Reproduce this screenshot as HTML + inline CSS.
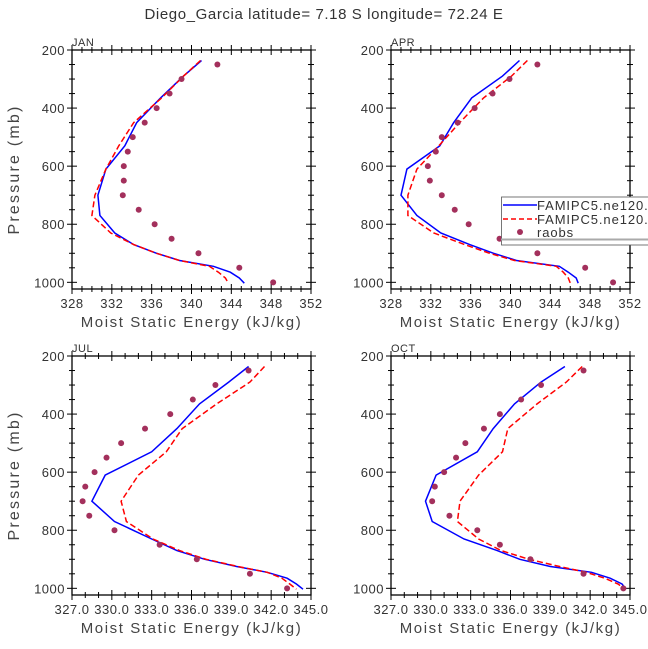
<!DOCTYPE html>
<html><head><meta charset="utf-8"><style>
body{margin:0;background:#fff;}
svg{display:block;font-family:"Liberation Sans","DejaVu Sans",sans-serif;}
</style></head><body>
<svg id="chart" width="648" height="649" viewBox="0 0 648 649" xmlns="http://www.w3.org/2000/svg">
<text x="324" y="19" text-anchor="middle" font-size="15" letter-spacing="0.6" fill="#333">Diego_Garcia  latitude= 7.18 S longitude= 72.24 E</text>
</svg>
<script>
// Shared model pressure levels (mb)
const modelP = [236,290,365,450,530,610,700,770,830,870,900,925,945,965,985,1003];
const obsP = [250,300,350,400,450,500,550,600,650,700,750,800,850,900,950,1000];
const months = ["JAN","APR","JUL","OCT"];
const yTicks = [200,400,600,800,1000];
const xTicksTop = ["328","332","336","340","344","348","352"];
const xTicksBot = ["327.0","330.0","333.0","336.0","339.0","342.0","345.0"];
const janBlue = [341.0,339.2,336.9,334.5,333.3,331.4,330.6,330.8,332.3,334.2,336.5,338.8,342.2,343.9,344.8,345.3];
const janRed  = [340.9,339.2,337.0,334.2,332.7,331.4,330.3,330.0,331.9,334.2,336.5,338.8,341.8,342.7,343.4,343.7];
const janObs  = [342.6,339.0,337.8,336.5,335.3,334.1,333.6,333.2,333.2,333.1,334.7,336.3,338.0,340.7,344.8,348.2];
const aprBlue = [340.9,339.2,336.1,334.3,332.9,329.6,329.0,330.6,333.0,335.9,338.3,340.6,344.9,345.8,346.6,346.8];
const aprRed  = [341.7,340.1,337.3,334.9,332.8,330.6,329.7,329.7,332.3,335.4,337.9,340.4,344.6,345.3,345.8,346.0];
const aprObs  = [342.7,339.9,338.2,336.4,334.7,333.1,332.5,331.7,331.9,333.1,334.4,335.8,338.9,342.7,347.5,350.3];
const julBlue = [340.3,338.8,336.6,334.9,333.0,329.5,328.5,330.2,333.0,334.9,337.0,339.4,341.7,343.2,343.9,344.4];
const julRed  = [341.5,340.4,337.9,335.3,334.1,332.0,330.7,331.1,333.1,335.1,337.1,339.5,341.7,342.8,343.4,343.9];
const julObs  = [340.3,337.8,336.1,334.4,332.5,330.7,329.6,328.7,328.0,327.8,328.3,330.2,333.6,336.4,340.4,343.2];
const octBlue = [340.1,338.3,336.3,334.7,333.5,330.4,329.6,330.1,332.5,335.0,336.7,339.0,342.1,343.5,344.4,344.7];
const octRed  = [341.4,340.2,338.0,335.8,335.4,333.6,332.2,332.0,333.6,335.3,337.4,339.7,341.7,343.1,344.1,344.6];
const octObs  = [341.5,338.3,336.8,335.2,334.0,332.6,331.9,331.0,330.3,330.1,331.4,333.5,335.2,337.5,341.5,344.5];

const svg = document.getElementById('chart');
const NS = 'http://www.w3.org/2000/svg';
function mk(tag, attrs, parent){const e=document.createElementNS(NS,tag);for(const k in attrs)e.setAttribute(k,attrs[k]);(parent||svg).appendChild(e);return e;}

const panels = [
 {name:'jan',label:'JAN',x0:72,y0:50,xmin:328,xmax:352,step:4,minor:1,ticks:xTicksTop,blue:janBlue,red:janRed,obs:janObs,left:true},
 {name:'apr',label:'APR',x0:391,y0:50,xmin:328,xmax:352,step:4,minor:1,ticks:xTicksTop,blue:aprBlue,red:aprRed,obs:aprObs,left:false},
 {name:'jul',label:'JUL',x0:72,y0:356,xmin:327,xmax:345,step:3,minor:1,ticks:xTicksBot,blue:julBlue,red:julRed,obs:julObs,left:true},
 {name:'oct',label:'OCT',x0:391,y0:356,xmin:327,xmax:345,step:3,minor:1,ticks:xTicksBot,blue:octBlue,red:octRed,obs:octObs,left:false}
];
const W=239, H=239, PMIN=200, PMAX=1023;

panels.forEach(pn=>{
  const g = mk('g',{});
  
  
  const xs = v => pn.x0 + (v-pn.xmin)/(pn.xmax-pn.xmin)*W;
  const ys = p => pn.y0 + (p-PMIN)/(PMAX-PMIN)*H;
  const lab = mk('text',{x:pn.x0,y:pn.y0-4,'font-size':11,fill:'#333','letter-spacing':0.5},g);
  lab.textContent = pn.label;
  
  
  for(let p=200;p<=1000;p+=50){
    const y=ys(p), major = yTicks.includes(p);
    const L = major?5:3;
    mk('line',{x1:pn.x0-L,x2:pn.x0+L,y1:y,y2:y,stroke:'#000','stroke-width':1},g);
    mk('line',{x1:pn.x0+W-L,x2:pn.x0+W+L,y1:y,y2:y,stroke:'#000','stroke-width':1},g);
  }
  yTicks.forEach(p=>{
    const t = mk('text',{x:pn.x0-7,y:ys(p)+5,'text-anchor':'end','font-size':13,fill:'#333','letter-spacing':0.5},g);
    t.textContent = p;
    
    
  });
  for(let v=pn.xmin; v<=pn.xmax+1e-6; v+=pn.minor){
    const x=xs(v), major = Math.abs(((v-pn.xmin)/pn.step)-Math.round((v-pn.xmin)/pn.step))<1e-6;
    const L = major?5:3;
    mk('line',{x1:x,x2:x,y1:pn.y0+H-L,y2:pn.y0+H+L,stroke:'#000','stroke-width':1},g);
    mk('line',{x1:x,x2:x,y1:pn.y0-L,y2:pn.y0+L,stroke:'#000','stroke-width':1},g);
  }
  pn.ticks.forEach((s,i)=>{
    const t = mk('text',{x:xs(pn.xmin+i*pn.step),y:pn.y0+H+19,'text-anchor':'middle','font-size':13,fill:'#333','letter-spacing':0.5},g);
    t.textContent = s;
    
    
  });
  const xt = mk('text',{x:pn.x0+W/2,y:pn.y0+H+38,'text-anchor':'middle','font-size':15,fill:'#444','letter-spacing':1.6},g);
  xt.textContent = 'Moist Static Energy (kJ/kg)';
  
  
  if(pn.left){
    const cy = pn.y0+H/2;
    const yt = mk('text',{x:19,y:cy,'text-anchor':'middle','font-size':16,fill:'#444','letter-spacing':2.2,transform:`rotate(-90 19 ${cy})`},g);
    yt.textContent = 'Pressure (mb)';
    
    
  }
  const pts = arr => arr.map((v,i)=>xs(v).toFixed(1)+','+ys(modelP[i]).toFixed(1)).join(' ');
  const b = mk('polyline',{points:pts(pn.blue),fill:'none',stroke:'#0000ff','stroke-width':1.5},g);
  
  
  const r = mk('polyline',{points:pts(pn.red),fill:'none',stroke:'#ff0000','stroke-width':1.5,'stroke-dasharray':'6,3'},g);
  
  
  pn.obs.forEach((v,i)=>{
    const c = mk('circle',{cx:xs(v),cy:ys(obsP[i]),r:3,fill:'#a3305c'},g);
    
    
  });
  pn.frame=()=>{
    const f = mk('rect',{x:pn.x0,y:pn.y0,width:W,height:H,fill:'none',stroke:'#000','stroke-width':1.3},g);
    
    
  };
});

const lg = mk('g',{});


mk('rect',{x:501.5,y:197,width:160,height:48,fill:'#fff',stroke:'#555','stroke-width':0.8},lg);
mk('line',{x1:501,x2:648,y1:239.5,y2:239.5,stroke:'#aaa','stroke-width':2},lg);
const le = [['FAMIPC5.ne120.y','#0000ff',false,'legend-entry-model-1'],['FAMIPC5.ne120.y','#ff0000',true,'legend-entry-model-2']];
le.forEach((e,i)=>{
  const y = 205+i*14;
  const l = mk('line',{x1:503,x2:537,y1:y,y2:y,stroke:e[1],'stroke-width':1.5},lg);
  if(e[2]) l.setAttribute('stroke-dasharray','5,3');
  const t = mk('text',{x:537,y:y+5,'font-size':13,fill:'#333','letter-spacing':0.9},lg);
  t.textContent = e[0];
  
  
});
mk('circle',{cx:520,cy:232,r:3,fill:'#a3305c'},lg);
const rt = mk('text',{x:537,y:237,'font-size':13,fill:'#333','letter-spacing':0.9},lg);
rt.textContent='raobs';


panels.forEach(pn=>pn.frame());
</script>
</body></html>
